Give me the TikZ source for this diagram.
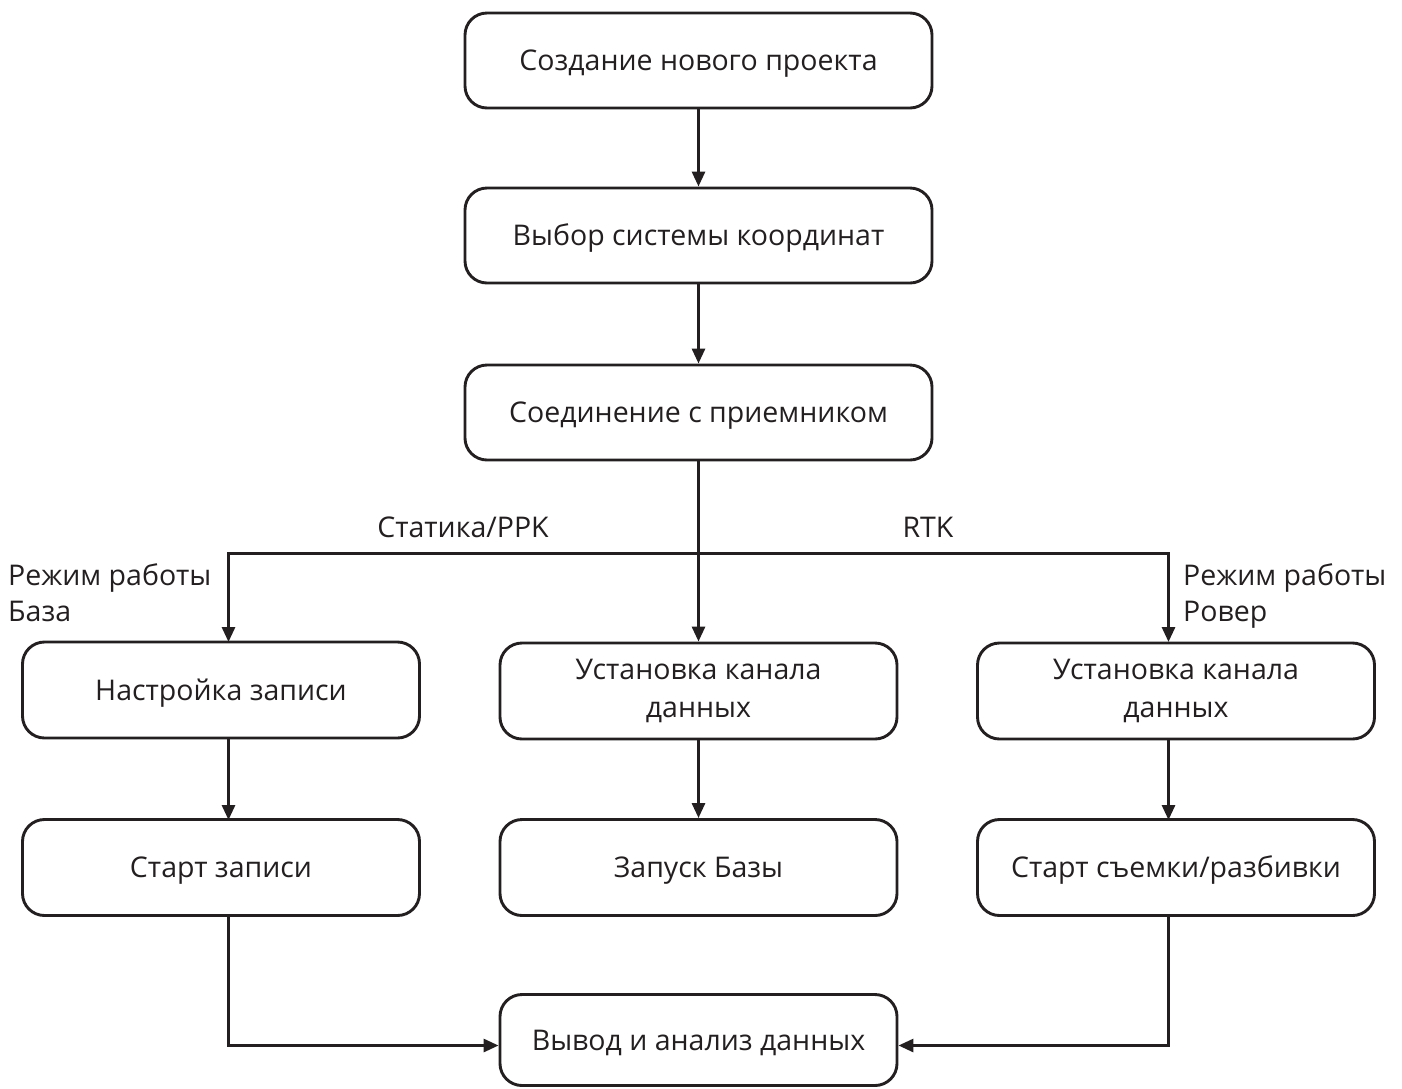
\documentclass[tikz,border=0pt]{standalone}
\usepackage{fontspec}
\setmainfont{Open Sans}
\usetikzlibrary{arrows.meta}
\definecolor{ink}{HTML}{231F20}
\begin{document}
\begin{tikzpicture}[x=1pt,y=-1pt,
  stepbox/.style={draw=ink,line width=2.9pt,rounded corners=22pt,inner sep=0pt,
    text=ink,align=center,font=\fontsize{28.5}{37.5}\selectfont},
  oneline/.style={text height=20.4pt,text depth=0pt},
  wide/.style={stepbox,oneline,minimum width=467pt,minimum height=95pt},
  mid/.style={stepbox,minimum width=397pt,minimum height=96pt},
  flow/.style={draw=ink,line width=2.9pt,-{Triangle[length=15pt,width=13pt]}},
  lbl/.style={text=ink,font=\fontsize{28.5}{36}\selectfont,inner sep=0pt}]
\useasboundingbox (0,0) rectangle (1402,1088);
\node[wide] (p) at (698.5,60.5) {Создание нового проекта};
\node[wide] (cs) at (698.5,235.5) {Выбор системы координат};
\node[wide] (rx) at (698.5,412.5) {Соединение с приемником};
\node[mid,oneline] (lr) at (221,690) {Настройка записи};
\node[mid] (mc) at (698.5,691) {Установка канала\\данных};
\node[mid] (rc) at (1176,691) {Установка канала\\данных};
\node[mid,oneline] (ls) at (221,867.5) {Старт записи};
\node[mid,oneline] (mb) at (698.5,867.5) {Запуск Базы};
\node[mid,oneline] (rs) at (1176,867.5) {Старт съемки/разбивки};
\node[stepbox,oneline,minimum width=397pt,minimum height=91pt] (out) at (698.5,1040) {Вывод и анализ данных};
\coordinate (split) at (698.5,553.5);
% main chain
\draw[flow] (p) -- (cs);
\draw[flow] (cs) -- (rx);
\draw[flow] (rx) -- (mc);
% branches
\draw[flow] (split) -| (228.5,642);
\draw[flow] (split) -| (1168.5,642);
\draw[flow] (228.5,738) -- (228.5,820);
\draw[flow] (mc) -- (mb);
\draw[flow] (1168.5,738) -- (1168.5,820);
% results
\draw[flow] (228.5,915) |- (out.west |- 0,1045.5);
\draw[flow] (1168.5,915) |- (out.east |- 0,1045.5);
% labels
\node[lbl,oneline] (sl) at (463,527) {Статика/PPK};
\node[lbl,oneline] (rl) at (928,527) {RTK};
\node[lbl,anchor=north west,align=left] (bl) at (8,563) {Режим работы\\База};
\node[lbl,anchor=north west,align=left] (rvl) at (1183,563) {Режим работы\\Ровер};
\end{tikzpicture}
\end{document}
